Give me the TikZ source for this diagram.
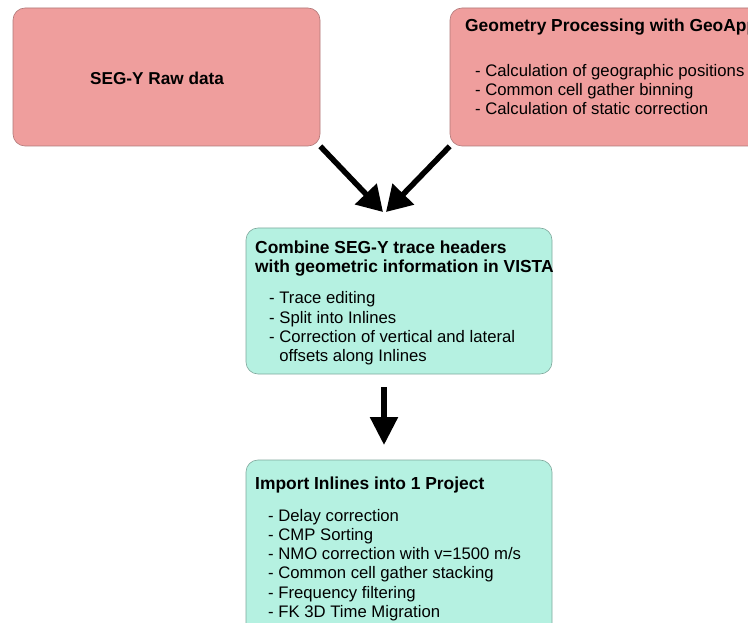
\documentclass[tikz,border=0pt]{standalone}
\usepackage{fontspec}
\setmainfont{Liberation Sans}
\usetikzlibrary{arrows.meta}
\definecolor{rawfill}{HTML}{EF9E9D}
\definecolor{rawdraw}{HTML}{B07878}
\definecolor{procfill}{HTML}{B5F1E1}
\definecolor{procdraw}{HTML}{7FA89C}

\begin{document}
\begin{tikzpicture}[x=1pt,y=-1pt,
  box/.style={draw, line width=0.6pt, rounded corners=12pt, inner sep=0pt},
  rawbox/.style={box, fill=rawfill, draw=rawdraw},
  procbox/.style={box, fill=procfill, draw=procdraw},
  txt/.style={inner sep=0pt, anchor=north west, align=left,
    font=\fontsize{16.7}{19.2}\selectfont, execute at begin node=\strut},
  headtxt/.style={txt, font=\fontsize{17.4}{19.5}\selectfont\bfseries},
  flow/.style={line width=5.5pt},
  diaghead/.style={flow, -{Triangle[length=25pt,width=29pt]}},
  downhead/.style={flow, -{Triangle[length=28pt,width=27pt]}}]
\useasboundingbox (0,0) rectangle (748,623);
\clip (0,0) rectangle (748,623);

% boxes
\node[rawbox, minimum width=307pt, minimum height=138pt] (raw) at (166.5,77) {};
\node[rawbox, minimum width=320pt, minimum height=138pt] (geo) at (610,77) {};
\node[procbox, minimum width=306pt, minimum height=146pt] (vista) at (399,301) {};
\node[procbox, minimum width=306pt, minimum height=190pt] (proj) at (399,555) {};

% texts
\node[inner sep=0pt, font=\fontsize{17.2}{19}\selectfont\bfseries] (rawtxt) at (157,78) {SEG-Y Raw data};

\node[headtxt] (geohead) at (465,17.7) {Geometry Processing with GeoApp};
\node[txt] (geolist) at (475,64.2) {- Calculation of geographic positions\\
- Common cell gather binning\\
- Calculation of static correction};

\node[headtxt] (vistahead) at (255,240.5) {Combine SEG-Y trace headers\\
with geometric information in VISTA};
\node[txt] (vistalist) at (269,291.5) {- Trace editing\\
- Split into Inlines\\
- Correction of vertical and lateral\\
\hphantom{- }offsets along Inlines};

\node[headtxt] (projhead) at (255,475.5) {Import Inlines into 1 Project};
\node[txt] (projlist) at (268,509) {- Delay correction\\
- CMP Sorting\\
- NMO correction with v=1500 m/s\\
- Common cell gather stacking\\
- Frequency filtering\\
- FK 3D Time Migration};

% connectors
\coordinate (meetl) at (383,212);
\coordinate (meetr) at (386,212);
\coordinate (downtop) at (384,387);
\coordinate (downtip) at (384,445);
\draw[diaghead] (raw.south east) -- (meetl);
\draw[diaghead] (geo.south west) -- (meetr);
\draw[downhead] (downtop) -- (downtip);
\end{tikzpicture}
\end{document}
